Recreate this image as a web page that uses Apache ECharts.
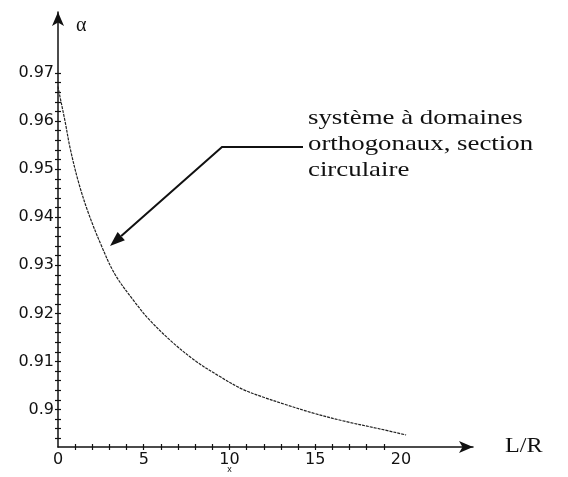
<!DOCTYPE html>
<html>
<head>
<meta charset="utf-8">
<script src="https://cdn.jsdelivr.net/npm/echarts@6/dist/echarts.min.js"></script>
<style>
  html, body { margin: 0; padding: 0; background: #fff; }
  #chart { width: 568px; height: 477px; }
</style>
</head>
<body>
<div id="chart"></div>
<script>
// L/R values and alpha
const lr =    [0,      0.12,  0.41, 0.7,    1.18,   1.76,  2.54,  3.31,   4.38,   5.35,   6.7,    8.06,  9.42,   10.77,  12.03,  13.3,  14.84,  16.78,  18.72, 20.3];
const alpha = [0.9672, 0.965, 0.96, 0.9545, 0.9475, 0.941, 0.934, 0.9282, 0.9228, 0.9186, 0.9139, 0.910, 0.9069, 0.9042, 0.9025, 0.901, 0.8993, 0.8975, 0.896, 0.8947];

const xLabels = [0, 5, 10, 15, 20];
const xTicks = [1, 2, 3, 4, 5, 6, 7, 8, 9, 10, 11, 12, 13, 14, 15, 16, 17, 18, 19];
const yLabels = [0.9, 0.91, 0.92, 0.93, 0.94, 0.95, 0.96, 0.97];
const yTicks = [0.894, 0.896, 0.898, 0.9, 0.902, 0.904, 0.906, 0.908, 0.91, 0.912, 0.914, 0.916, 0.918, 0.92,
  0.922, 0.924, 0.926, 0.928, 0.93, 0.932, 0.934, 0.936, 0.938, 0.94, 0.942, 0.944, 0.946, 0.948, 0.95,
  0.952, 0.954, 0.956, 0.958, 0.96, 0.962, 0.964, 0.966, 0.968, 0.97];

const xMin = 0, xMax = 24.2;
const yMin = 0.8922, yMax = 0.9827;
const ink = '#111';

const chart = echarts.init(document.getElementById('chart'), null, { renderer: 'canvas' });

function xAxisOf(inside, main) {
  return {
    type: 'value', min: xMin, max: xMax, position: 'bottom',
    axisLine: main ? { show: true, onZero: false, symbol: ['none', 'arrow'], symbolSize: [9, 14], lineStyle: { color: ink, width: 1.5 } } : { show: false },
    axisTick: { show: true, inside: inside, length: 3, customValues: xTicks, lineStyle: { color: ink, width: 1.2 } },
    axisLabel: main ? { show: true, customValues: xLabels, color: ink, fontSize: 16, fontFamily: 'DejaVu Sans', margin: 5 } : { show: false },
    splitLine: { show: false }
  };
}
function yAxisOf(inside, main) {
  return {
    type: 'value', min: yMin, max: yMax, position: 'left',
    axisLine: main ? { show: true, onZero: false, symbol: ['none', 'arrow'], symbolSize: [9, 14], lineStyle: { color: ink, width: 1.5 } } : { show: false },
    axisTick: { show: true, inside: inside, length: 3, customValues: yTicks, lineStyle: { color: ink, width: 1.2 } },
    axisLabel: main ? { show: true, customValues: yLabels, color: ink, fontSize: 16, fontFamily: 'DejaVu Sans', margin: 4, formatter: v => String(+v.toFixed(3)) } : { show: false },
    splitLine: { show: false }
  };
}

chart.setOption({
  backgroundColor: '#fff',
  animation: false,
  grid: { left: 58, right: 95, top: 12, bottom: 30, outerBoundsMode: 'none' },
  xAxis: [xAxisOf(false, true), xAxisOf(true, false)],
  yAxis: [yAxisOf(false, true), yAxisOf(true, false)],
  series: [{
    type: 'line',
    data: lr.map((x, i) => [x, alpha[i]]),
    smooth: 0.35,
    showSymbol: false,
    lineStyle: { color: '#222', width: 1.2, type: [3, 1] }
  }]
});

// annotation: pointer line with arrowhead
const corner = [222, 147], start = [303, 147], tip = [110, 246];
const dx = tip[0] - corner[0], dy = tip[1] - corner[1];
const len = Math.sqrt(dx * dx + dy * dy);
const ux = dx / len, uy = dy / len;
const bx = tip[0] - ux * 15, by = tip[1] - uy * 15;
const head = [tip, [bx - uy * 5.5, by + ux * 5.5], [bx + uy * 5.5, by - ux * 5.5]];
const tenPx = chart.convertToPixel({ xAxisIndex: 0 }, 10);

chart.setOption({
  graphic: [
    { type: 'polyline', shape: { points: [start, corner, [bx, by]] }, style: { stroke: ink, lineWidth: 2, fill: null } },
    { type: 'polygon', shape: { points: head }, style: { fill: ink } },
    { type: 'text', x: 308, y: 105, scaleX: 1.22, style: { text: 'système à domaines\northogonaux, section\ncirculaire', font: '22px "Liberation Serif"', lineHeight: 26, fill: ink } },
    { type: 'text', x: 76, y: 16, style: { text: 'α', font: '20px "Liberation Serif"', fill: ink } },
    { type: 'text', x: 505, y: 436, scaleX: 1.15, style: { text: 'L/R', font: '21px "Liberation Serif"', fill: ink } },
    { type: 'text', x: tenPx, y: 470, style: { text: 'x', font: '9px "Liberation Sans"', fill: ink, align: 'center', verticalAlign: 'middle' } }
  ]
});
</script>
</body>
</html>
